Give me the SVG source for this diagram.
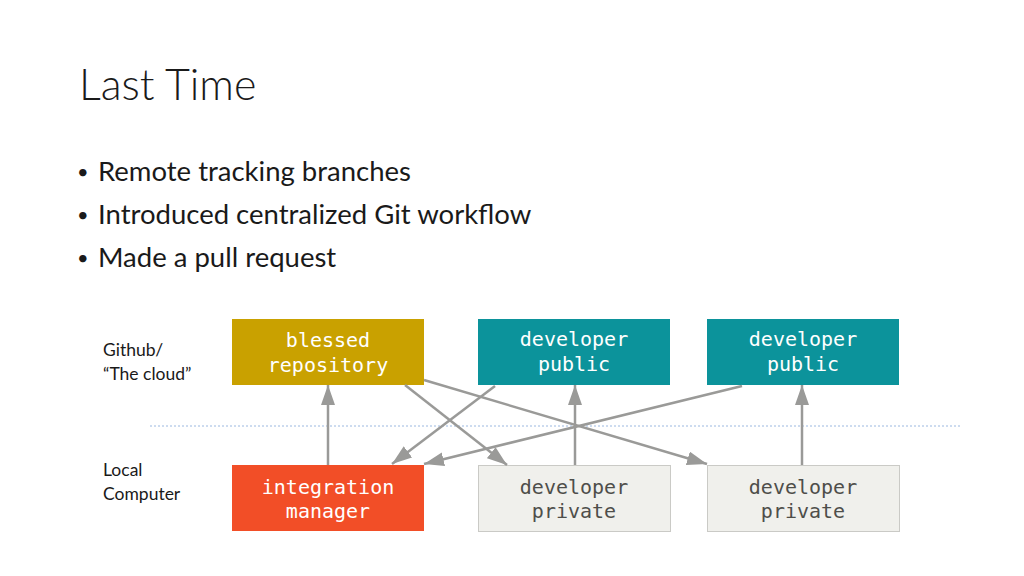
<svg xmlns="http://www.w3.org/2000/svg" width="1024" height="576" viewBox="0 0 1024 576">
<style>
.title{font-family:Lato,"Open Sans","Liberation Sans",sans-serif;font-weight:300;font-size:43px;fill:#1a1a1a}
.bul{font-family:Lato,"Open Sans","Liberation Sans",sans-serif;font-size:27.5px;fill:#1a1a1a}
.dot{font-family:Lato,"Open Sans","Liberation Sans",sans-serif;font-size:20px;fill:#1a1a1a}
.lab{font-family:Lato,"Open Sans","Liberation Sans",sans-serif;font-size:17.5px;fill:#1a1a1a}
.mono{font-family:"DejaVu Sans Mono","Liberation Mono",monospace;font-size:20px;text-anchor:middle}
.w{fill:#ffffff}
.d{fill:#4e4e4a}
.conn{stroke:#9a9a98;stroke-width:2.5;fill:none;marker-end:url(#ah)}
</style>
<defs>
<marker id="ah" markerUnits="userSpaceOnUse" markerWidth="20" markerHeight="14" refX="20" refY="7" orient="auto">
<path d="M0,0 L20,7 L0,14 z" fill="#9a9a98"/>
</marker>
</defs>
<rect width="1024" height="576" fill="#ffffff"/>
<text class="title" x="79" y="100">Last Time</text>
<g class="dot">
<text x="77" y="179">•</text>
<text x="77" y="222">•</text>
<text x="77" y="265">•</text>
</g>
<g class="bul">
<text x="98" y="181">Remote tracking branches</text>
<text x="98" y="224">Introduced centralized Git workflow</text>
<text x="98" y="267">Made a pull request</text>
</g>
<text class="lab" x="103" y="356">Github/</text>
<text class="lab" x="103" y="380">“The cloud”</text>
<text class="lab" x="103" y="476">Local</text>
<text class="lab" x="103" y="500">Computer</text>
<line x1="150" y1="426" x2="962" y2="426" stroke="#9bb8e0" stroke-width="1" stroke-dasharray="2,2"/>
<g id="blessed"><rect x="232" y="319" width="192" height="66" fill="#c9a100"/><text class="mono w" x="328" y="347">blessed</text><text class="mono w" x="328" y="372">repository</text></g>
<g id="devpub1"><rect x="478" y="319" width="192" height="66" fill="#0c939b"/><text class="mono w" x="574" y="346">developer</text><text class="mono w" x="574" y="371">public</text></g>
<g id="devpub2"><rect x="707" y="319" width="192" height="66" fill="#0c939b"/><text class="mono w" x="803" y="346">developer</text><text class="mono w" x="803" y="371">public</text></g>
<g id="intmgr"><rect x="232" y="465" width="192" height="66" fill="#f24e27"/><text class="mono w" x="328" y="494">integration</text><text class="mono w" x="328" y="518">manager</text></g>
<g id="devpriv1"><rect x="478.5" y="465.5" width="192" height="66" fill="#f0f0ec" stroke="#cacac6" stroke-width="1"/><text class="mono d" x="574" y="494">developer</text><text class="mono d" x="574" y="518">private</text></g>
<g id="devpriv2"><rect x="707.5" y="465.5" width="192" height="66" fill="#f0f0ec" stroke="#cacac6" stroke-width="1"/><text class="mono d" x="803" y="494">developer</text><text class="mono d" x="803" y="518">private</text></g>
<g id="connectors">
<line class="conn" x1="328" y1="465" x2="328" y2="385"/>
<line class="conn" x1="575" y1="465" x2="575" y2="385"/>
<line class="conn" x1="802" y1="465" x2="802" y2="385"/>
<line class="conn" x1="405" y1="385" x2="507" y2="465"/>
<line class="conn" x1="424" y1="380" x2="707" y2="464"/>
<line class="conn" x1="495" y1="386" x2="392" y2="464"/>
<line class="conn" x1="742" y1="386" x2="424" y2="464"/>
</g>
</svg>
